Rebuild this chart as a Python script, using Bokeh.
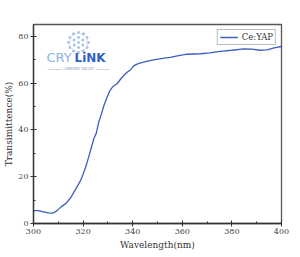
from bokeh.plotting import figure
from bokeh.embed import file_html
from bokeh.resources import INLINE
from bokeh.models import Range1d, FixedTicker, Legend, LegendItem, Label
import numpy as np

wavelength = [300, 302, 304, 306, 307, 308, 309.5, 311, 313, 315,
              316.3, 318, 319, 320, 321, 322, 323, 324.3, 325.3, 326.3,
              327.3, 328.4, 329.5, 330.8, 332, 333.7, 335, 336.4, 338, 339.1,
              340.4, 342, 344, 346, 348.5, 352, 355.2, 358, 362, 367.3,
              371, 375.4, 380, 384.8, 388, 391.5, 394.2, 397, 400]
transmittance = [5.5, 5.5, 5.0, 4.5, 4.4, 4.5, 5.5, 7.0, 8.5, 11.0,
                 13.4, 16.5, 18.4, 21.0, 24.0, 27.5, 31.2, 36.2, 38.5, 43.3,
                 46.5, 50.4, 53.5, 56.8, 58.5, 59.7, 61.5, 63.2, 64.8, 65.6,
                 67.3, 68.2, 68.8, 69.4, 69.9, 70.5, 71.0, 71.6, 72.3, 72.5,
                 72.9, 73.5, 74.0, 74.6, 74.5, 74.0, 74.2, 75.0, 75.6]
x_ticks = [300, 320, 340, 360, 380, 400]
y_ticks = [0, 20, 40, 60, 80]
series_name = "Ce:YAP"

p = figure(width=300, height=257, output_backend="svg", toolbar_location=None,
           x_range=Range1d(300, 400), y_range=Range1d(0, 85),
           min_border_left=33, min_border_right=19, min_border_top=24, min_border_bottom=34)
p.background_fill_color = "white"
p.border_fill_color = "white"
p.grid.visible = False
p.outline_line_color = "#555555"
p.outline_line_width = 1.3

line_color = "#3b5fc0"
r = p.line(wavelength, transmittance, line_color=line_color, line_width=1.3)

serif = "DejaVu Serif"
for ax in (p.xaxis[0], p.yaxis[0]):
    ax.axis_line_color = "#333333"
    ax.axis_line_width = 1.3
    ax.major_tick_line_color = "#333333"
    ax.minor_tick_line_color = "#333333"
    ax.major_tick_in = 3
    ax.major_tick_out = 3
    ax.minor_tick_in = 2
    ax.minor_tick_out = 0
    ax.major_label_text_font = serif
    ax.major_label_text_font_size = "8px"
    ax.major_label_text_color = "#444444"
    ax.axis_label_text_font = serif
    ax.axis_label_text_font_size = "9px"
    ax.axis_label_text_font_style = "normal"
    ax.axis_label_text_color = "#333333"
    ax.major_label_standoff = 2

p.xaxis.ticker = FixedTicker(ticks=x_ticks, minor_ticks=list(range(300, 401, 10)))
p.yaxis.ticker = FixedTicker(ticks=y_ticks, minor_ticks=list(range(0, 86, 10)))
p.xaxis.axis_label = "Wavelength(nm)"
p.yaxis.axis_label = "Transimittence(%)"
p.xaxis.axis_label_standoff = 3
p.yaxis.axis_label_standoff = 1

legend = Legend(items=[LegendItem(label=series_name, renderers=[r])],
                location="top_right")
legend.margin = 5
legend.padding = 2
legend.spacing = 0
legend.glyph_width = 18
legend.glyph_height = 8
legend.label_height = 8
legend.label_standoff = 4
legend.label_text_font = serif
legend.label_text_font_size = "8.5px"
legend.label_text_color = "#333333"
legend.border_line_color = "#777777"
legend.border_line_width = 1
legend.background_fill_alpha = 1
p.add_layout(legend)

# Watermark logo (decoration), placed via pixel -> data conversion
def to_data(px, py):
    return 300 + (px - 33) / 2.48, (223 - py) / 2.341

cx, cy = 78, 42
hx, hy = [cx], [cy]
for ring in (1, 2):
    n = 6 * ring
    for k in range(n):
        ang = 2 * np.pi * k / n + np.pi / 6
        rr = 5 * ring
        hx.append(cx + rr * np.cos(ang))
        hy.append(cy + rr * np.sin(ang))
dx, dy = zip(*[to_data(a, b) for a, b in zip(hx, hy)])
p.scatter(list(dx), list(dy), size=2.0, color="#9db7e6", alpha=0.9)
ang6 = [np.pi / 6 + i * np.pi / 3 for i in range(7)]
ox, oy = zip(*[to_data(cx + 10 * np.cos(a), cy + 10 * np.sin(a)) for a in ang6])
p.line(list(ox), list(oy), line_color="#b7cbee", line_width=0.6)

x1, y1 = to_data(46, 65)
x2, _ = to_data(74, 65)
x3, y3 = to_data(63, 71)
p.add_layout(Label(x=x1, y=y1, text="CRY", text_font="DejaVu Sans",
                   text_font_size="13px", text_color="#8fb0e6"))
p.add_layout(Label(x=x2, y=y1, text="LiNK", text_font="DejaVu Sans",
                   text_font_size="12px", text_color="#2f5fc4", text_font_style="bold"))
p.add_layout(Label(x=x3, y=y3, text="LINKING VALUE", text_font="DejaVu Sans",
                   text_font_size="4px", text_color="#8a9ab8"))
lx1, ly = to_data(47, 69)
lx2, _ = to_data(61, 69)
lx3, _ = to_data(96, 69)
lx4, _ = to_data(109, 69)
p.segment([lx1, lx3], [ly, ly], [lx2, lx4], [ly, ly], line_color="#9aa8c0", line_width=0.5)

open("out.html", "w").write(file_html(p, INLINE))
